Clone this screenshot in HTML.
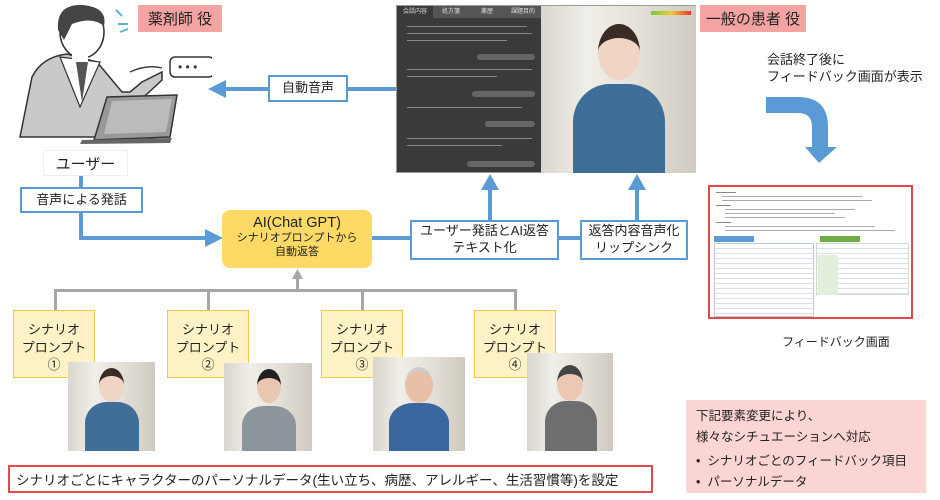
<!DOCTYPE html>
<html><head><meta charset="utf-8"><style>
*{margin:0;padding:0;box-sizing:border-box}
body{width:940px;height:500px;background:#fff;position:relative;overflow:hidden;font-family:"Liberation Sans","Noto Sans CJK JP",sans-serif;color:#222}
.a{position:absolute}
.lbl{position:absolute;background:#f4a3a3;font-size:15px;display:flex;align-items:center;justify-content:center}
.bb{position:absolute;background:#fff;border:2px solid #5b9bd5;font-size:13px;display:flex;align-items:center;justify-content:center;text-align:center;line-height:1.3}
.sc{position:absolute;background:#fff2c6;border:1.5px solid #f5c843;font-size:13px;text-align:center;line-height:1.35;padding-top:10px;width:82px;height:68px;white-space:nowrap}
.ph{position:absolute;overflow:hidden;background:linear-gradient(90deg,#d9d6ce,#f0eee8 30%,#e6e2da 60%,#cfcac0)}
.ph .h{position:absolute;border-radius:50%}
.ph .b{position:absolute;border-radius:40% 40% 0 0}
.bl{position:absolute;background:#5b9bd5}
.gl{position:absolute;background:#a6a6a6}
.ln{position:absolute;height:2px;background:#c8c8c8}
</style></head><body>

<svg class="a" style="left:12px;top:2px" width="200" height="145" viewBox="0 0 200 145">
<path d="M8 135 L20 75 Q30 55 55 52 L85 60 L110 90 L118 90 L130 80 L150 70 L150 78 L135 92 L115 110 L92 112 L92 135 Z" fill="#c9c9c9" stroke="#333" stroke-width="1.5"/>
<path d="M48 55 L68 105 L88 60 Z" fill="#fff" stroke="#333" stroke-width="1.2"/>
<path d="M64 60 L70 100 L76 60 Z" fill="#555"/>
<ellipse cx="70" cy="30" rx="22" ry="26" fill="#fff" stroke="#333" stroke-width="1.5"/>
<path d="M46 28 Q44 2 70 3 Q96 5 92 24 Q80 14 60 22 L52 38 Z" fill="#444"/>
<rect x="60" y="50" width="16" height="10" fill="#fff"/>
<path d="M118 70 Q135 62 150 66" stroke="#333" fill="#fff" stroke-width="1.3"/>
<path d="M95 95 L165 93 L158 135 L82 138 Z" fill="#999" stroke="#333" stroke-width="1.5"/>
<path d="M100 99 L160 97 L154 130 L92 132 Z" fill="#bbb"/>
<path d="M70 138 L160 136 L158 141 L68 142 Z" fill="#666"/>
<rect x="158" y="55" width="44" height="20" rx="5" fill="#fff" stroke="#333" stroke-width="1.5"/>
<text x="166" y="69" font-size="12" fill="#333">• • •</text>
<path d="M104 8 L110 14 M106 22 L116 22 M108 30 L116 27" stroke="#5bb5d5" stroke-width="2"/>
</svg>

<div class="lbl" style="left:138px;top:5px;width:84px;height:27px">薬剤師 役</div>
<div class="a" style="left:43px;top:150px;width:85px;height:26px;background:#fff;border:1px solid #eee;font-size:15px;display:flex;align-items:center;justify-content:center">ユーザー</div>

<div class="bl" style="left:79px;top:176px;width:4px;height:64px"></div>
<div class="bl" style="left:79px;top:236px;width:130px;height:4px"></div>
<svg class="a" style="left:205px;top:229px" width="18" height="18"><path d="M0 0 L18 9 L0 18 Z" fill="#5b9bd5"/></svg>
<div class="bb" style="left:20px;top:187px;width:123px;height:26px">音声による発話</div>

<div class="bl" style="left:225px;top:87px;width:172px;height:4px"></div>
<svg class="a" style="left:208px;top:80px" width="18" height="18"><path d="M18 0 L0 9 L18 18 Z" fill="#5b9bd5"/></svg>
<div class="bb" style="left:268px;top:75px;width:80px;height:27px">自動音声</div>

<div class="a" style="left:396px;top:5px;width:300px;height:168px;background:#3a3a3a;border:1px solid #999">
 <div class="a" style="left:0;top:0;width:144px;height:12px;background:#555;font-size:6px;color:#ddd;display:flex">
  <span style="flex:1;text-align:center;background:#3a3a3a">会話内容</span><span style="flex:1;text-align:center">処方箋</span><span style="flex:1;text-align:center">薬歴</span><span style="flex:1;text-align:center">課題目的</span>
 </div>
 <div class="ln" style="left:10px;top:20px;width:120px;height:1px;background:#888"></div>
 <div class="ln" style="left:10px;top:27px;width:125px;height:1px;background:#888"></div>
 <div class="ln" style="left:10px;top:34px;width:100px;height:1px;background:#888"></div>
 <div class="a" style="left:80px;top:48px;width:58px;height:6px;border-radius:3px;background:#666"></div>
 <div class="ln" style="left:10px;top:63px;width:125px;height:1px;background:#888"></div>
 <div class="ln" style="left:10px;top:70px;width:90px;height:1px;background:#888"></div>
 <div class="a" style="left:75px;top:85px;width:63px;height:6px;border-radius:3px;background:#666"></div>
 <div class="ln" style="left:10px;top:101px;width:115px;height:1px;background:#888"></div>
 <div class="a" style="left:88px;top:115px;width:50px;height:6px;border-radius:3px;background:#666"></div>
 <div class="ln" style="left:10px;top:132px;width:125px;height:1px;background:#888"></div>
 <div class="ln" style="left:10px;top:139px;width:95px;height:1px;background:#888"></div>
 <div class="a" style="left:70px;top:155px;width:68px;height:6px;border-radius:3px;background:#666"></div>
 <div class="ph" style="left:144px;top:0;width:155px;height:167px">
  <div class="a" style="left:110px;top:5px;width:40px;height:4px;background:linear-gradient(90deg,#7c3,#ec3,#e33)"></div>
  <div class="b" style="left:32px;top:78px;width:92px;height:95px;background:#3f6f98"></div>
  <div class="h" style="left:57px;top:18px;width:42px;height:56px;background:#f0d4c4;border-top:14px solid #3b2b25"></div>
 </div>
</div>

<div class="lbl" style="left:700px;top:5px;width:106px;height:27px">一般の患者 役</div>
<div class="a" style="left:767px;top:51px;font-size:13px;line-height:17px;white-space:nowrap">会話終了後に<br>フィードバック画面が表示</div>
<svg class="a" style="left:766px;top:97px" width="72" height="67"><path d="M0 0 L32 0 Q62 0 62 30 L62 50 L71 50 L53 66 L39 50 L46 50 L46 30 Q46 16 32 16 L0 16 Z" fill="#5b9bd5"/></svg>

<div class="a" style="left:708px;top:185px;width:205px;height:134px;border:2px solid #e04a4a;background:#fff">
 <div class="ln" style="left:6px;top:5px;width:20px;height:1px;background:#888"></div>
 <div class="ln" style="left:12px;top:9px;width:140px;height:1px;background:#aaa"></div>
 <div class="ln" style="left:12px;top:13px;width:150px;height:1px;background:#aaa"></div>
 <div class="ln" style="left:6px;top:18px;width:15px;height:1px;background:#888"></div>
 <div class="ln" style="left:15px;top:22px;width:130px;height:1px;background:#aaa"></div>
 <div class="ln" style="left:15px;top:26px;width:110px;height:1px;background:#aaa"></div>
 <div class="ln" style="left:15px;top:30px;width:120px;height:1px;background:#aaa"></div>
 <div class="ln" style="left:6px;top:35px;width:15px;height:1px;background:#888"></div>
 <div class="ln" style="left:15px;top:39px;width:150px;height:1px;background:#aaa"></div>
 <div class="ln" style="left:15px;top:43px;width:170px;height:1px;background:#aaa"></div>
 <div class="a" style="left:4px;top:49px;width:40px;height:6px;background:#5b9bd5"></div>
 <div class="a" style="left:110px;top:49px;width:40px;height:6px;background:#70ad47"></div>
 <div class="a" style="left:4px;top:56px;width:100px;height:74px;background:repeating-linear-gradient(#fff 0 4px,#dde 4px 5px);border:1px solid #bcd"></div>
 <div class="a" style="left:106px;top:56px;width:93px;height:52px;background:repeating-linear-gradient(#fff 0 4px,#dde 4px 5px);border:1px solid #cdc"></div>
 <div class="a" style="left:108px;top:68px;width:20px;height:40px;background:#e2efda"></div>
</div>
<div class="a" style="left:782px;top:333px;font-size:12px">フィードバック画面</div>

<div class="a" style="left:222px;top:210px;width:150px;height:58px;background:#fdd966;border-radius:8px;text-align:center">
 <div style="font-size:14.5px;margin-top:5px">AI(Chat GPT)</div>
 <div style="font-size:11px;line-height:1.3">シナリオプロンプトから<br>自動返答</div>
</div>
<div class="bl" style="left:372px;top:236px;width:210px;height:4px"></div>
<div class="bb" style="left:410px;top:220px;width:149px;height:40px;font-size:13px">ユーザー発話とAI返答<br>テキスト化</div>
<div class="bb" style="left:580px;top:220px;width:108px;height:40px;font-size:13px">返答内容音声化<br>リップシンク</div>
<div class="bl" style="left:488px;top:188px;width:4px;height:33px"></div>
<svg class="a" style="left:481px;top:174px" width="18" height="16"><path d="M0 16 L9 0 L18 16 Z" fill="#5b9bd5"/></svg>
<div class="bl" style="left:635px;top:188px;width:4px;height:33px"></div>
<svg class="a" style="left:628px;top:174px" width="18" height="16"><path d="M0 16 L9 0 L18 16 Z" fill="#5b9bd5"/></svg>

<div class="gl" style="left:296px;top:276px;width:3px;height:16px"></div>
<svg class="a" style="left:292px;top:269px" width="11" height="10"><path d="M0 10 L5.5 0 L11 10 Z" fill="#a6a6a6"/></svg>
<div class="gl" style="left:54px;top:289px;width:463px;height:3px"></div>
<div class="gl" style="left:54px;top:289px;width:3px;height:21px"></div>
<div class="gl" style="left:207px;top:289px;width:3px;height:21px"></div>
<div class="gl" style="left:361px;top:289px;width:3px;height:21px"></div>
<div class="gl" style="left:514px;top:289px;width:3px;height:21px"></div>

<div class="sc" style="left:13px;top:310px">シナリオ<br>プロンプト<br>①</div>
<div class="sc" style="left:167px;top:310px">シナリオ<br>プロンプト<br>②</div>
<div class="sc" style="left:321px;top:310px">シナリオ<br>プロンプト<br>③</div>
<div class="sc" style="left:474px;top:310px">シナリオ<br>プロンプト<br>④</div>

<div class="ph" style="left:68px;top:362px;width:87px;height:89px">
 <div class="b" style="left:17px;top:40px;width:54px;height:52px;background:#3f6f98"></div>
 <div class="h" style="left:31px;top:6px;width:25px;height:34px;background:#f0d4c4;border-top:8px solid #3b2b25"></div>
</div>
<div class="ph" style="left:224px;top:363px;width:88px;height:88px">
 <div class="b" style="left:18px;top:43px;width:54px;height:48px;background:#8c949c"></div>
 <div class="h" style="left:33px;top:6px;width:24px;height:34px;background:#e8c6b0;border-top:9px solid #222"></div>
</div>
<div class="ph" style="left:373px;top:357px;width:92px;height:94px">
 <div class="b" style="left:16px;top:46px;width:60px;height:50px;background:#3a67a0"></div>
 <div class="h" style="left:32px;top:10px;width:28px;height:36px;background:#e8c0a8;border-top:4px solid #ccc"></div>
</div>
<div class="ph" style="left:527px;top:353px;width:86px;height:98px">
 <div class="b" style="left:18px;top:48px;width:52px;height:52px;background:#6e6e70"></div>
 <div class="h" style="left:30px;top:12px;width:26px;height:36px;background:#ecc8b4;border-top:9px solid #444"></div>
</div>

<div class="a" style="left:8px;top:465px;width:645px;height:28px;border:2px solid #e04a4a;background:#fff;font-size:13.5px;display:flex;align-items:center;padding-left:6px;white-space:nowrap">シナリオごとにキャラクターのパーソナルデータ(生い立ち、病歴、アレルギー、生活習慣等)を設定</div>

<div class="a" style="left:686px;top:400px;width:240px;height:93px;background:#fbd4d4;font-size:12.5px;line-height:21px;padding:6px 0 0 10px">
下記要素変更により、<br>様々なシチュエーションへ対応<br>
<div style="margin-top:3px">•&nbsp; シナリオごとのフィードバック項目</div>
<div>•&nbsp; パーソナルデータ</div>
</div>
</body></html>
